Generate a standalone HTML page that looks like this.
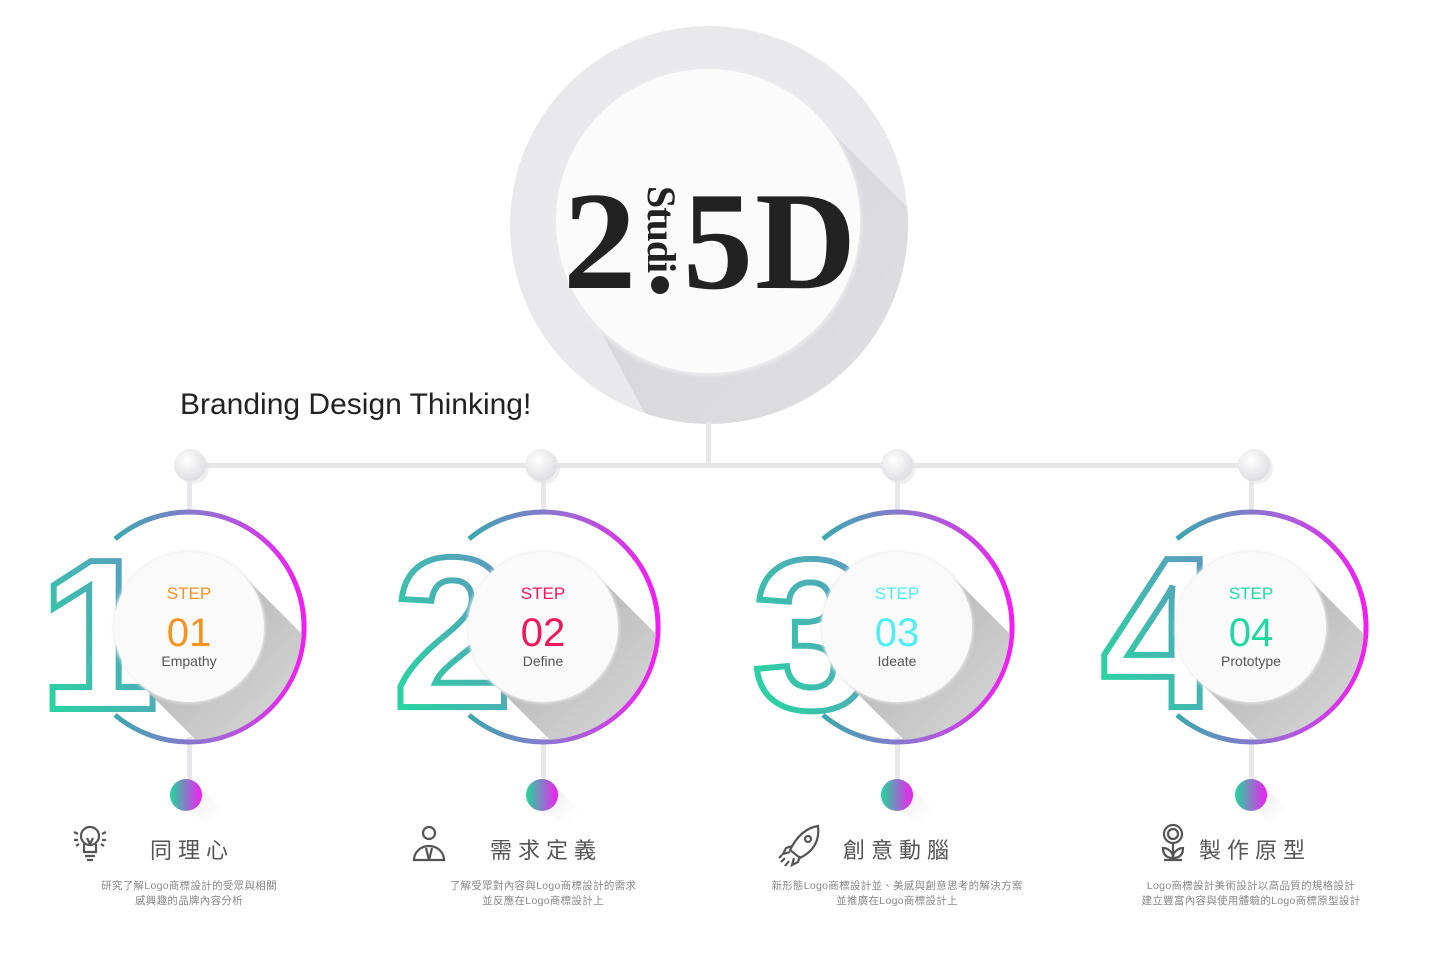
<!DOCTYPE html>
<html><head><meta charset="utf-8">
<style>
html,body{margin:0;padding:0;background:#fff;width:1440px;height:960px;overflow:hidden}
svg{display:block}
.cj{font-family:"Liberation Sans","Noto Sans CJK TC",sans-serif}
</style></head>
<body>
<svg width="1440" height="960" viewBox="0 0 1440 960" xmlns="http://www.w3.org/2000/svg">
<defs>
  <linearGradient id="ring" x1="0" y1="0" x2="1" y2="0">
    <stop offset="0" stop-color="#3aa9ae"/>
    <stop offset="0.5" stop-color="#9a6bd4"/>
    <stop offset="1" stop-color="#f41cf4"/>
  </linearGradient>
  <linearGradient id="num" x1="0" y1="1" x2="1" y2="0">
    <stop offset="0" stop-color="#1ee09a"/>
    <stop offset="1" stop-color="#6a8cc8"/>
  </linearGradient>
  <linearGradient id="dot" x1="0" y1="0" x2="1" y2="0">
    <stop offset="0" stop-color="#1ed99a"/>
    <stop offset="1" stop-color="#f41cf4"/>
  </linearGradient>
  <linearGradient id="sh" x1="0" y1="0" x2="1" y2="1">
    <stop offset="0" stop-color="#a8a8a8"/>
    <stop offset="0.6" stop-color="#d8d8d8"/>
    <stop offset="1" stop-color="#ffffff" stop-opacity="0"/>
  </linearGradient>
  <linearGradient id="dsh" x1="0" y1="0" x2="1" y2="1">
    <stop offset="0" stop-color="#dcdcdc"/>
    <stop offset="1" stop-color="#ffffff" stop-opacity="0"/>
  </linearGradient>
  <linearGradient id="bigsh" x1="0" y1="0" x2="1" y2="1">
    <stop offset="0" stop-color="#cfcfd2"/>
    <stop offset="1" stop-color="#e8e8ea"/>
  </linearGradient>
  <radialGradient id="knob" cx="0.4" cy="0.35" r="0.7">
    <stop offset="0" stop-color="#ffffff"/>
    <stop offset="1" stop-color="#dcdcdf"/>
  </radialGradient>
  <clipPath id="cr"><circle cx="0" cy="0" r="113"/></clipPath>
  <clipPath id="bigc"><circle cx="709" cy="225" r="199"/></clipPath>
  <filter id="soft" x="-20%" y="-20%" width="140%" height="140%"><feGaussianBlur stdDeviation="1.5"/></filter>
</defs>

<circle cx="709" cy="225" r="199" fill="#e9e9eb"/>
<g clip-path="url(#bigc)">
  <polygon points="817,117 1100,400 800,700 600,330" fill="url(#bigsh)" opacity="0.8"/>
</g>
<circle cx="708" cy="222" r="154" fill="#ececee" filter="url(#soft)"/>
<circle cx="708" cy="221" r="152" fill="#fbfbfb"/>
<text x="563" y="288" font-family="Liberation Serif,serif" font-weight="bold" font-size="140" fill="#222" transform="translate(563,0) scale(1.05,1) translate(-563,0)">2</text>
<text x="683" y="288" font-family="Liberation Serif,serif" font-weight="bold" font-size="140" fill="#222" letter-spacing="2">5D</text>
<text transform="translate(648,186) rotate(90)" font-family="Liberation Serif,serif" font-weight="bold" font-size="40" fill="#222" letter-spacing="-1">Studi</text>
<circle cx="660" cy="285" r="9" fill="#222"/>

<text x="180" y="414" font-family="Liberation Sans,sans-serif" font-size="30" fill="#222" letter-spacing="0">Branding Design Thinking!</text>

<rect x="706" y="422" width="5" height="44" fill="#e6e6e8"/>
<rect x="190" y="463" width="1066" height="5" fill="#e6e6e8"/>

<g transform="translate(189,627)">
  <rect x="-2" y="-162" width="5" height="50" fill="#e8e8ea"/>
  <rect x="-2" y="110" width="5" height="55" fill="#e8e8ea"/>
  <path d="M-74,-88 A115,115 0 1 1 -74,88" fill="none" stroke="url(#ring)" stroke-width="5"/>
  <text x="-150" y="82" font-family="Liberation Sans,sans-serif" font-weight="bold" font-size="215" fill="#fff" stroke="url(#num)" stroke-width="6">1</text>
  <g clip-path="url(#cr)"><polygon points="53,-53 210,104 104,210 -53,53" fill="url(#sh)"/></g>
  <circle cx="0" cy="0" r="76" fill="#ededed" filter="url(#soft)"/>
  <circle cx="0" cy="0" r="75" fill="#fafafa"/>
  <text x="0" y="-28" text-anchor="middle" font-family="Liberation Sans,sans-serif" font-size="17" fill="#f7931e">STEP</text>
  <text x="0" y="19" text-anchor="middle" font-family="Liberation Sans,sans-serif" font-size="40" fill="#f7931e">01</text>
  <text x="0" y="39" text-anchor="middle" font-family="Liberation Sans,sans-serif" font-size="14" fill="#555">Empathy</text>
</g>
<g transform="translate(543,627)">
  <rect x="-2" y="-162" width="5" height="50" fill="#e8e8ea"/>
  <rect x="-2" y="110" width="5" height="55" fill="#e8e8ea"/>
  <path d="M-74,-88 A115,115 0 1 1 -74,88" fill="none" stroke="url(#ring)" stroke-width="5"/>
  <text x="-150" y="80" font-family="Liberation Sans,sans-serif" font-weight="bold" font-size="215" fill="#fff" stroke="url(#num)" stroke-width="6">2</text>
  <g clip-path="url(#cr)"><polygon points="53,-53 210,104 104,210 -53,53" fill="url(#sh)"/></g>
  <circle cx="0" cy="0" r="76" fill="#ededed" filter="url(#soft)"/>
  <circle cx="0" cy="0" r="75" fill="#fafafa"/>
  <text x="0" y="-28" text-anchor="middle" font-family="Liberation Sans,sans-serif" font-size="17" fill="#f0185a">STEP</text>
  <text x="0" y="19" text-anchor="middle" font-family="Liberation Sans,sans-serif" font-size="40" fill="#f0185a">02</text>
  <text x="0" y="39" text-anchor="middle" font-family="Liberation Sans,sans-serif" font-size="14" fill="#555">Define</text>
</g>
<g transform="translate(897,627)">
  <rect x="-2" y="-162" width="5" height="50" fill="#e8e8ea"/>
  <rect x="-2" y="110" width="5" height="55" fill="#e8e8ea"/>
  <path d="M-74,-88 A115,115 0 1 1 -74,88" fill="none" stroke="url(#ring)" stroke-width="5"/>
  <text x="-145" y="82" font-family="Liberation Sans,sans-serif" font-weight="bold" font-size="215" fill="#fff" stroke="url(#num)" stroke-width="6">3</text>
  <g clip-path="url(#cr)"><polygon points="53,-53 210,104 104,210 -53,53" fill="url(#sh)"/></g>
  <circle cx="0" cy="0" r="76" fill="#ededed" filter="url(#soft)"/>
  <circle cx="0" cy="0" r="75" fill="#fafafa"/>
  <text x="0" y="-28" text-anchor="middle" font-family="Liberation Sans,sans-serif" font-size="17" fill="#4ef0f5">STEP</text>
  <text x="0" y="19" text-anchor="middle" font-family="Liberation Sans,sans-serif" font-size="40" fill="#4ef0f5">03</text>
  <text x="0" y="39" text-anchor="middle" font-family="Liberation Sans,sans-serif" font-size="14" fill="#555">Ideate</text>
</g>
<g transform="translate(1251,627)">
  <rect x="-2" y="-162" width="5" height="50" fill="#e8e8ea"/>
  <rect x="-2" y="110" width="5" height="55" fill="#e8e8ea"/>
  <path d="M-74,-88 A115,115 0 1 1 -74,88" fill="none" stroke="url(#ring)" stroke-width="5"/>
  <text x="-150" y="80" font-family="Liberation Sans,sans-serif" font-weight="bold" font-size="215" fill="#fff" stroke="url(#num)" stroke-width="6">4</text>
  <g clip-path="url(#cr)"><polygon points="53,-53 210,104 104,210 -53,53" fill="url(#sh)"/></g>
  <circle cx="0" cy="0" r="76" fill="#ededed" filter="url(#soft)"/>
  <circle cx="0" cy="0" r="75" fill="#fafafa"/>
  <text x="0" y="-28" text-anchor="middle" font-family="Liberation Sans,sans-serif" font-size="17" fill="#1fd9a0">STEP</text>
  <text x="0" y="19" text-anchor="middle" font-family="Liberation Sans,sans-serif" font-size="40" fill="#1fd9a0">04</text>
  <text x="0" y="39" text-anchor="middle" font-family="Liberation Sans,sans-serif" font-size="14" fill="#555">Prototype</text>
</g>

<g>
  <circle cx="193" cy="468" r="16" fill="#e4e4e6" opacity="0.6"/><circle cx="190" cy="465" r="16" fill="url(#knob)"/>
  <circle cx="544" cy="468" r="16" fill="#e4e4e6" opacity="0.6"/><circle cx="541" cy="465" r="16" fill="url(#knob)"/>
  <circle cx="900" cy="468" r="16" fill="#e4e4e6" opacity="0.6"/><circle cx="897" cy="465" r="16" fill="url(#knob)"/>
  <circle cx="1257" cy="468" r="16" fill="#e4e4e6" opacity="0.6"/><circle cx="1254" cy="465" r="16" fill="url(#knob)"/>
</g>

<g>
  <polygon points="197,784 224,811 208,827 181,800" fill="url(#dsh)"/>
  <circle cx="186" cy="795" r="16" fill="url(#dot)"/>
  <polygon points="553,784 580,811 564,827 537,800" fill="url(#dsh)"/>
  <circle cx="542" cy="795" r="16" fill="url(#dot)"/>
  <polygon points="908,784 935,811 919,827 892,800" fill="url(#dsh)"/>
  <circle cx="897" cy="795" r="16" fill="url(#dot)"/>
  <polygon points="1262,784 1289,811 1273,827 1246,800" fill="url(#dsh)"/>
  <circle cx="1251" cy="795" r="16" fill="url(#dot)"/>
</g>

<g fill="none" stroke="#555" stroke-width="2.2">
  <circle cx="90" cy="836" r="9"/>
  <path d="M84,844 L84,852 L96,852 L96,844"/><path d="M85,856 L95,856 M87,860 L93,860"/>
  <path d="M87,838 L90,844 L93,838"/>
  <path d="M74,832 L78,834 M74,840 L78,840 M76,846 L79,844 M106,832 L102,834 M106,840 L102,840 M104,846 L101,844"/>
  <circle cx="429" cy="833" r="6"/>
  <path d="M414,860 A15,14 0 0 1 444,860 Z"/>
  <path d="M426,848 L429,860 L432,848"/>
  <path d="M818,826 C805,828 796,838 790,850 L800,858 C812,852 820,842 818,826 Z"/>
  <circle cx="808" cy="839" r="3"/>
  <path d="M792,846 L786,848 L783,854 L790,852 M800,856 L798,862 L792,865 L794,858"/>
  <path d="M785,858 L781,862 M789,861 L785,866 M782,855 L779,858"/>
  <circle cx="1173" cy="834" r="9"/><circle cx="1173" cy="834" r="5"/>
  <path d="M1173,843 L1173,860 M1163,848 C1163,856 1168,858 1173,858 C1173,852 1168,848 1163,848 Z M1183,848 C1183,856 1178,858 1173,858 C1173,852 1178,848 1183,848 Z M1164,860 L1182,860"/>
</g>

<g class="cj" font-size="22" fill="#555" letter-spacing="6">
  <text x="150" y="858">同理心</text>
  <text x="490" y="858">需求定義</text>
  <text x="843" y="858">創意動腦</text>
  <text x="1199" y="858">製作原型</text>
</g>
<g class="cj" font-size="10.5" fill="#888" text-anchor="middle" letter-spacing="0.3">
  <text x="189" y="889">研究了解Logo商標設計的受眾與相關</text>
  <text x="189" y="904">感興趣的品牌內容分析</text>
  <text x="543" y="889">了解受眾對內容與Logo商標設計的需求</text>
  <text x="543" y="904">並反應在Logo商標設計上</text>
  <text x="897" y="889">新形態Logo商標設計並、美感與創意思考的解決方案</text>
  <text x="897" y="904">並推廣在Logo商標設計上</text>
  <text x="1251" y="889">Logo商標設計美術設計以高品質的規格設計</text>
  <text x="1251" y="904">建立豐富內容與使用體驗的Logo商標原型設計</text>
</g>
</svg>
</body></html>
